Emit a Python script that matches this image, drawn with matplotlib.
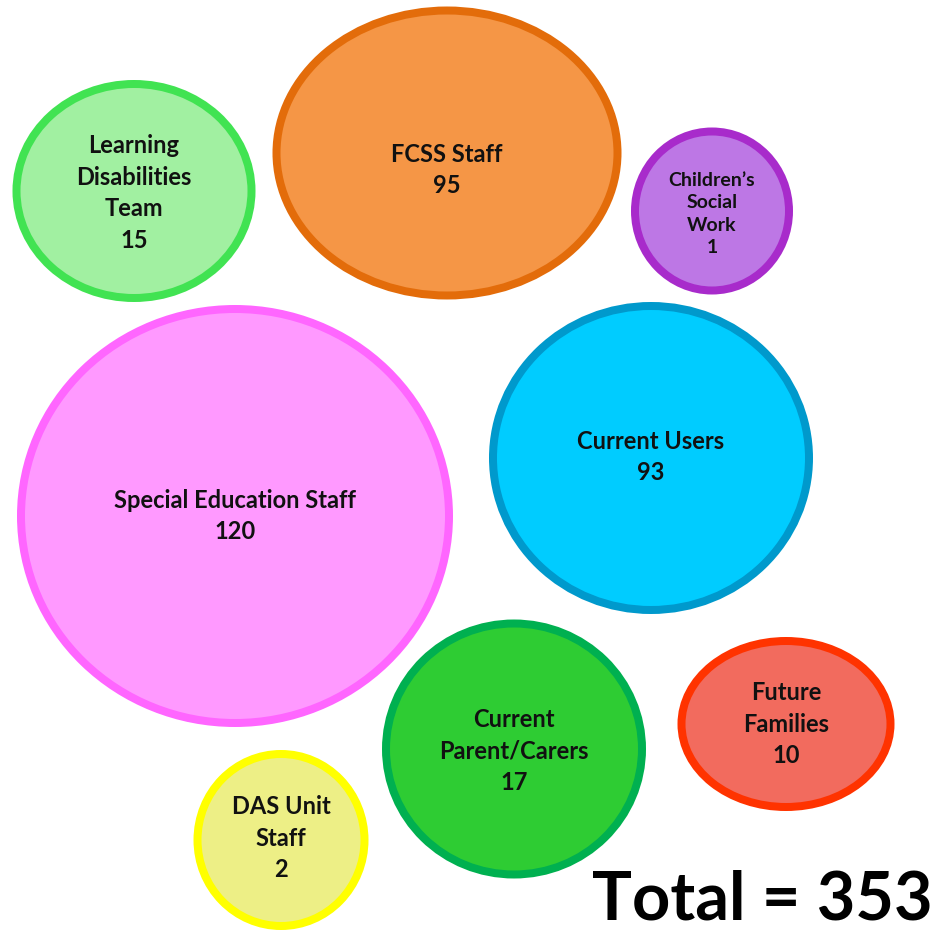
import matplotlib.pyplot as plt
from matplotlib.patches import Ellipse

# グループ別の回答者数
groups = [
    "Learning\nDisabilities\nTeam",
    "FCSS Staff",
    "Children\u2019s\nSocial\nWork",
    "Special Education Staff",
    "Current Users",
    "Current\nParent/Carers",
    "Future\nFamilies",
    "DAS Unit\nStaff",
]
counts = [15, 95, 1, 120, 93, 17, 10, 2]
total = sum(counts)

# 配置（ピクセル座標、外周の幅・高さ）
centers_x = [134, 447, 712, 235, 651, 514, 786, 281]
centers_y = [191, 153, 211, 516, 458, 749, 724, 840]
widths = [243, 349, 162, 436, 324, 264, 217, 175]
heights = [222, 293, 167, 422, 312, 259, 174, 180]
label_y = [193, 170, 214, 516, 457, 751, 724, 838]
label_size = [17, 17, 14, 17, 17, 17, 17, 17]
label_spacing = [1.45, 1.45, 1.4, 1.45, 1.45, 1.45, 1.45, 1.45]

fill_colors = ["#A1F0A1", "#F59646", "#BD77E5", "#FF99FF",
               "#00CCFF", "#2ECC33", "#F26B5E", "#EDEF86"]
edge_colors = ["#41E352", "#E36C0A", "#A82BCB", "#FF66FF",
               "#0099CC", "#00B050", "#FF3300", "#FFFF00"]

EDGE_PX = 8

plt.rcParams['font.family'] = ['Lato', 'DejaVu Sans']

fig = plt.figure(figsize=(9.40, 9.32), dpi=100)
ax = fig.add_axes([0, 0, 1, 1])
ax.set_xlim(0, 940)
ax.set_ylim(932, 0)
ax.axis("off")

for name, n, x, y, w, h, ly, fs, ls, fc, ec in zip(
        groups, counts, centers_x, centers_y, widths, heights,
        label_y, label_size, label_spacing, fill_colors, edge_colors):
    ax.add_patch(Ellipse((x, y), w - EDGE_PX, h - EDGE_PX,
                         facecolor=fc, edgecolor=ec,
                         linewidth=EDGE_PX * 0.72))
    ax.text(x, ly, f"{name}\n{n}", ha="center", va="center",
            fontsize=fs, fontweight="bold", linespacing=ls,
            color="#111111")

ax.text(933, 931, f"Total = {total}", ha="right", va="bottom",
        fontsize=48, fontweight="bold", color="black")

fig.savefig("out.png", dpi=100)
